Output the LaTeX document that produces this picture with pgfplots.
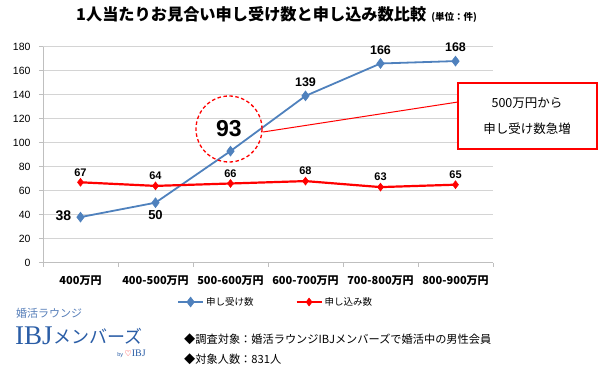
\documentclass[border=0pt]{standalone}
\usepackage{pgfplots}
\usepackage{pgfplotstable}
\pgfplotsset{compat=1.18}
\usepackage{fontspec}
\setmainfont{Liberation Sans}
\newfontfamily\jp{Noto Sans CJK JP}
\newfontfamily\serifL{Liberation Serif}
\newfontfamily\dejavu{DejaVu Sans}
\definecolor{sblue}{HTML}{4F81BD}
\definecolor{sred}{HTML}{FF0000}
\definecolor{gridc}{HTML}{D4D4D4}
\definecolor{axc}{HTML}{BFBFBF}
\definecolor{logob}{HTML}{2A5DA6}

\pgfplotstableread{
x y dx dy fs
0 38 -17 1.5 14
1 50 0 -12 13
2 93 -1.5 22 23
3 139 0 14 12.5
4 166 0 13.5 12.5
5 168 0 14 12.5
}\bluedata
\pgfplotstableread{
x y
0 67
1 64
2 66
3 68
4 63
5 65
}\reddata

\begin{document}
\begin{tikzpicture}[x=1pt,y=1pt]
\begin{axis}[
  width=450pt, height=216pt, scale only axis,
  xmin=-0.5, xmax=5.5, ymin=0, ymax=180,
  axis lines=left, axis line style={draw=axc, line width=0.8pt, -},
  ytick={0,20,...,180},
  ymajorgrids, grid style={draw=gridc, line width=0.8pt},
  tick align=outside, major tick length=4pt,
  tick style={draw=axc, line width=0.8pt},
  xtick={-0.5,0.5,...,5.5}, xticklabels={},
  extra x ticks={0,1,2,3,4,5},
  extra x tick labels={{400万円},{400-500万円},{500-600万円},{600-700万円},{700-800万円},{800-900万円}},
  extra x tick style={major tick length=0pt, grid=none, xmajorgrids=false},
  xmajorgrids=false,
  /pgf/number format/assume math mode=true,
  yticklabel style={font=\fontsize{10.5}{12}\selectfont, xshift=-5pt},
  xticklabel style={font=\jp\bfseries\fontsize{11}{13}\selectfont, yshift=-10pt},
  legend columns=2,
  legend style={draw=none, fill=none, inner sep=0pt, at={(0.2978,-0.182)}, anchor=west,
    font=\jp\fontsize{9.5}{11}\selectfont,
    /tikz/every even column/.append style={column sep=40pt}},
  legend image code/.code={\draw[mark repeat=2,mark phase=2,#1] plot coordinates {(0pt,0pt)(12.5pt,0pt)(25pt,0pt)};},
  clip=false,
]
\addplot[sblue, line width=1.8pt, mark=diamond*, mark size=5pt, mark options={fill=sblue, draw=sblue, line width=0.5pt},
  visualization depends on={\thisrow{dx} \as \ldx},
  visualization depends on={\thisrow{dy} \as \ldy},
  visualization depends on={\thisrow{fs} \as \lfs},
  nodes near coords, nodes near coords style={anchor=center, xshift=\ldx pt, yshift=\ldy pt, text=black, font=\bfseries\fontsize{\lfs}{\lfs}\selectfont}]
  table[x=x, y=y] {\bluedata};
\addplot[sred, line width=2.2pt, mark=diamond*, mark size=4pt, mark options={fill=sred, draw=sred, line width=0.5pt},
  nodes near coords, nodes near coords style={anchor=center, yshift=10pt, text=black, font=\bfseries\fontsize{11}{12}\selectfont}]
  table[x=x, y=y] {\reddata};
\legend{申し受け数,申し込み数}
\coordinate (O) at (rel axis cs:0,0);
\end{axis}
\begin{scope}[shift={([xshift=-43pt,yshift=-111.3pt]O)}]
% annotation
\draw[sred, line width=1.3pt, dash pattern=on 3.5pt off 2.5pt] (229,{374-129}) circle[radius=33];
\draw[sred, line width=1pt] (263,{374-132}) -- (458,{374-102});
\draw[sred, line width=1.3pt, fill=white] (458,{374-149}) rectangle (597,{374-83});
\node[font=\jp\fontsize{12.5}{14}\selectfont] at (527,{374-103}) {500万円から};
\node[font=\jp\fontsize{12.5}{14}\selectfont] at (527,{374-129}) {申し受け数急増};
% title
\node[anchor=base west, inner sep=0pt] at (76,{374-21}) {{\jp\bfseries\fontsize{16.2}{18}\selectfont 1人当たりお見合い申し受け数と申し込み数比較}\hspace{5pt}{\jp\bfseries\fontsize{9.5}{10}\selectfont (単位：件)}};
% logo
\node[anchor=west, text=logob!80, font=\jp\fontsize{11}{13}\selectfont, inner sep=0pt] at (16,{374-313}) {婚活ラウンジ};
\node[anchor=base west, text=logob, font=\serifL\fontsize{27}{30}\selectfont, inner sep=0pt] at (15,{374-345}) {IBJ};
\node[anchor=base west, text=logob, font=\jp\fontsize{18}{20}\selectfont, inner sep=0pt] at (53,{374-344}) {メンバーズ};
\node[anchor=base east, inner sep=0pt] at (146,{374-357}) {{\fontsize{5.5}{6}\selectfont\color{logob}by}\,{\dejavu\fontsize{8}{9}\selectfont\color{sred}♡}{\serifL\fontsize{10}{11}\selectfont\color{logob}IBJ}};
% notes
\node[anchor=west, inner sep=0pt, font=\jp\fontsize{11.2}{13}\selectfont] at (184,{374-339}) {◆調査対象：婚活ラウンジIBJメンバーズで婚活中の男性会員};
\node[anchor=west, inner sep=0pt, font=\jp\fontsize{11.2}{13}\selectfont] at (184,{374-359}) {◆対象人数：831人};
\end{scope}
\pgfresetboundingbox
\path[use as bounding box] ([xshift=-43pt,yshift=-111.3pt]O) rectangle ++(600,374);
\end{tikzpicture}
\end{document}
